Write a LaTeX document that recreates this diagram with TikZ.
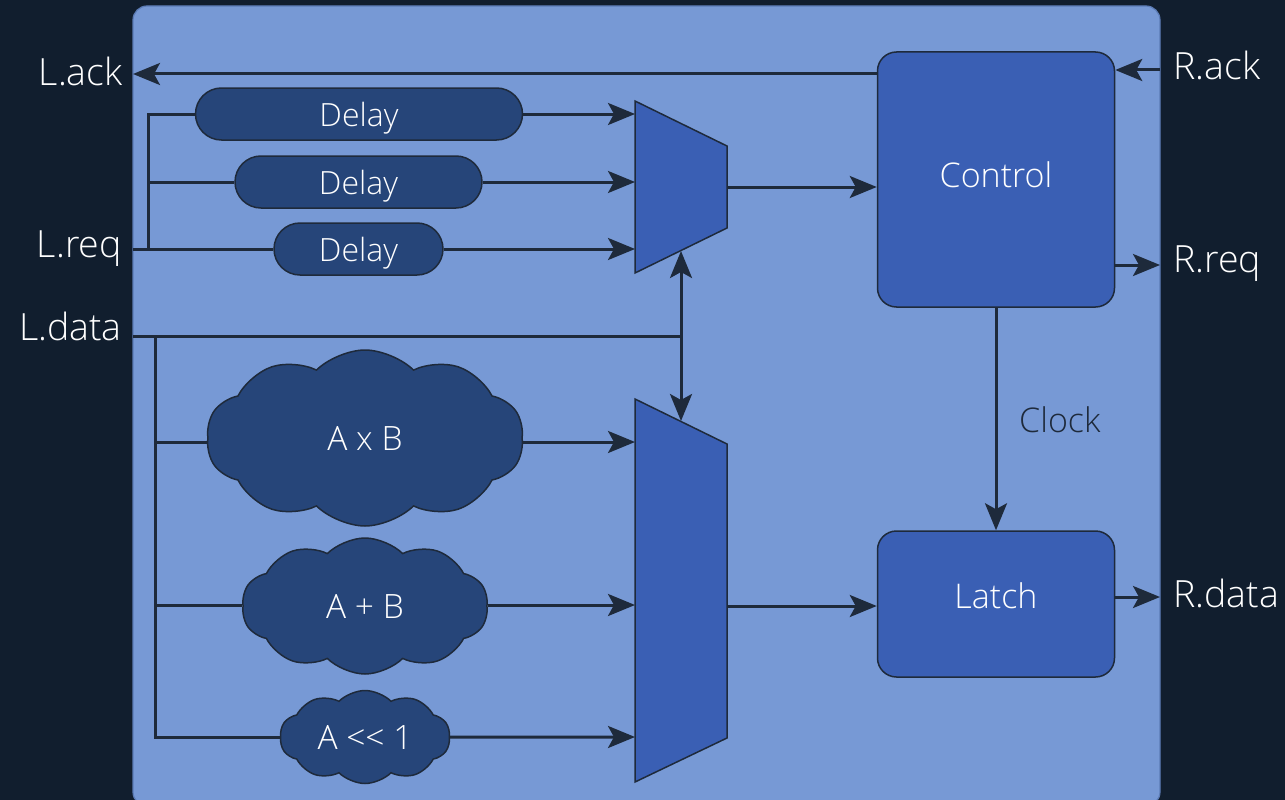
\documentclass[tikz,border=0pt]{standalone}
\usepackage{fontspec}
\setmainfont{Open Sans Light}[Ligatures=NoCommon]
\usetikzlibrary{arrows.meta,shapes.symbols}

\definecolor{bgdark}{HTML}{111E2E}
\definecolor{panel}{HTML}{7799D5}
\definecolor{paneledge}{HTML}{5B7BB5}
\definecolor{blockblue}{HTML}{3A5FB4}
\definecolor{navy}{HTML}{264579}
\definecolor{wire}{HTML}{1E2A3B}

\begin{document}
\begin{tikzpicture}[x=1pt,y=-1pt,
  wirestyle/.style={draw=wire,line width=3pt},
  arr/.style={wirestyle,-{Stealth[length=27pt,width=22pt,inset=6pt]}},
  dblarr/.style={wirestyle,{Stealth[length=27pt,width=22pt,inset=6pt]}-{Stealth[length=27pt,width=22pt,inset=6pt]}},
  shapeedge/.style={draw=wire,line width=1.5pt},
  blockbox/.style={shapeedge,fill=blockblue,rounded corners=19pt},
  boxtext/.style={text=white,inner sep=0pt,font=\fontsize{34pt}{40pt}\selectfont},
  pill/.style={shapeedge,fill=navy,rounded corners=26pt,minimum height=52pt,
    text=white,inner sep=0pt,text depth=0pt,font=\fontsize{32pt}{38pt}\selectfont},
  blob/.style={shapeedge,fill=navy,cloud,cloud puff arc=90,aspect=1.8,
    text=white,inner sep=0pt,font=\fontsize{33.5pt}{38pt}\selectfont},
  portl/.style={text=white,inner sep=0pt,font=\fontsize{37.5pt}{44pt}\selectfont},
]
% canvas and main panel
\useasboundingbox (0,0) rectangle (1285,800);
\fill[bgdark] (0,0) rectangle (1285,800);
\begin{scope}
  \clip (0,0) rectangle (1285,800);
  \draw[paneledge,fill=panel,line width=1.2pt,rounded corners=14pt] (133,6) rectangle (1160,806);
\end{scope}

% port labels
\node[portl,anchor=base east] (Lack)  at (123,85)  {L.ack};
\node[portl,anchor=base east] (Lreq)  at (122,257) {L.req};
\node[portl,anchor=base east] (Ldata) at (122,340) {L.data};
\node[portl,anchor=base west] (Rack)  at (1173,80)  {R.ack};
\node[portl,anchor=base west] (Rreq)  at (1173,272) {R.req};
\node[portl,anchor=base west] (Rdata) at (1173,607) {R.data};

% port attachment points on the panel edge
\coordinate (lack)  at (133,74);
\coordinate (lreq)  at (133,249);
\coordinate (ldata) at (133,336);
\coordinate (rack)  at (1160,70);
\coordinate (rreq)  at (1160,265);
\coordinate (rdata) at (1160,597);

% multiplexers
\coordinate (m1nw) at (635,101);
\coordinate (m1ne) at (727,146);
\coordinate (m1se) at (727,228);
\coordinate (m1sw) at (635,273);
\fill[blockblue] (m1nw) -- (m1ne) -- (m1se) -- (m1sw) -- cycle;
\draw[shapeedge,line join=miter] (m1nw) -- (m1ne) -- (m1se) -- (m1sw) -- cycle;
\coordinate (m1a) at (635,114);
\coordinate (m1b) at (635,182);
\coordinate (m1c) at (635,249);
\coordinate (m1out) at (727,187);
\coordinate (m1sel) at (681,251);

\coordinate (m2nw) at (635,399);
\coordinate (m2ne) at (727,444);
\coordinate (m2se) at (727,738);
\coordinate (m2sw) at (635,782);
\fill[blockblue] (m2nw) -- (m2ne) -- (m2se) -- (m2sw) -- cycle;
\draw[shapeedge,line join=miter] (m2nw) -- (m2ne) -- (m2se) -- (m2sw) -- cycle;
\coordinate (m2a) at (635,442);
\coordinate (m2b) at (635,605);
\coordinate (m2c) at (635,737);
\coordinate (m2out) at (727,606);
\coordinate (m2sel) at (681,421);

% control and latch
\node[blockbox,minimum width=237pt,minimum height=255pt] (ctrl) at (996,179.5) {};
\node[boxtext] (ctrltxt) at (996,175) {Control};
\node[blockbox,minimum width=237pt,minimum height=146pt] (latch) at (996,604) {};
\node[boxtext] (latchtxt) at (996,596) {Latch};

% delay elements
\node[pill,minimum width=327pt] (d1) at (359,114) {Delay};
\node[pill,minimum width=247pt] (d2) at (358.5,182) {Delay};
\node[pill,minimum width=169pt] (d3) at (358.5,249) {Delay};

% combinational function clouds
\node[blob,cloud puffs=10,minimum width=317pt,minimum height=176pt] (fmul) at (365,438) {A x B};
\node[blob,cloud puffs=10,minimum width=246pt,minimum height=136pt] (fadd) at (365,606) {A + B};
\node[blob,cloud puffs=10,minimum width=170pt,minimum height=93pt]  (fshl) at (365,737) {A {<}{<} 1};

% request path
\coordinate (rqb) at (148,249);
\draw[wirestyle] (lreq) -- (d3.west);
\draw[wirestyle] (rqb) |- (d1.west);
\draw[wirestyle] (rqb |- d2.west) -- (d2.west);
\draw[arr] (d1.east) -- (m1a);
\draw[arr] (d2.east) -- (m1b);
\draw[arr] (d3.east) -- (m1c);

% data path
\coordinate (dtb) at (155,336);
\coordinate (sel) at (681,336);
\draw[wirestyle] (ldata) -- (sel);
\draw[wirestyle] (dtb) |- (fshl.west);
\draw[wirestyle] (dtb |- m2a) -- (fmul.west |- m2a);
\draw[wirestyle] (dtb |- m2b) -- (fadd.west |- m2b);
\draw[arr] (fmul.east |- m2a) -- (m2a);
\draw[arr] (fadd.east |- m2b) -- (m2b);
\draw[arr] (fshl.east) -- (m2c);
\draw[dblarr] (m1sel) -- (m2sel);

% outputs and handshake
\draw[arr] (m1out) -- (ctrl.west |- m1out);
\draw[arr] (m2out) -- (latch.west |- m2out);
\draw[arr] (ctrl.west |- lack) -- (lack);
\draw[arr] (rack) -- (ctrl.east |- rack);
\draw[arr] (ctrl.east |- rreq) -- (rreq);
\draw[arr] (latch.east |- rdata) -- (rdata);
\draw[arr] (ctrl.south) -- (latch.north);
\node[text=wire,anchor=base west,inner sep=0pt,font=\fontsize{34pt}{40pt}\selectfont] (clk) at (1019,432) {Clock};
\end{tikzpicture}
\end{document}
